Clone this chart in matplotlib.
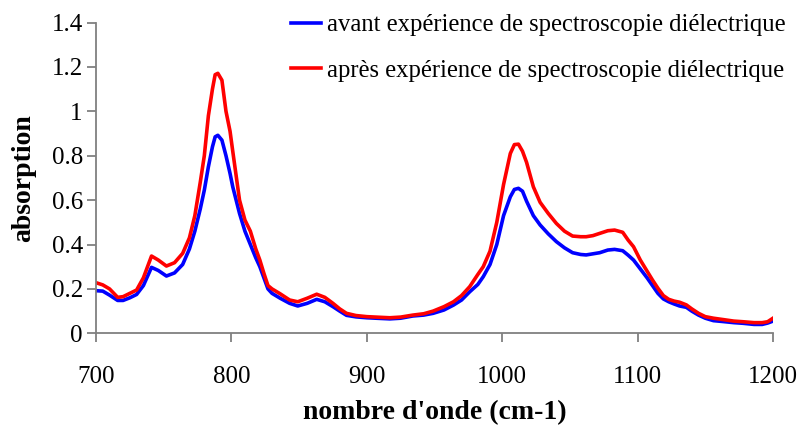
import matplotlib
matplotlib.use("Agg")
import matplotlib.pyplot as plt
import numpy as np

# wavenumber (cm-1)
wn_avant = [700, 705, 710, 716, 720, 725, 730, 735, 741, 746, 752, 758, 764, 769, 773, 777, 780, 783, 786, 788, 790, 793, 796, 799, 801, 806, 810, 814, 818, 821, 824, 827, 830, 836, 843, 849, 856, 863, 869, 875, 880, 885, 892, 900, 910, 917, 925, 934, 942, 949, 957, 964, 970, 976, 982, 986, 991, 996, 1001, 1006, 1009, 1012, 1015, 1018, 1023, 1028, 1034, 1040, 1046, 1052, 1058, 1062, 1067, 1072, 1078, 1083, 1089, 1093, 1097, 1102, 1107, 1111, 1115, 1119, 1123, 1127, 1131, 1136, 1140, 1145, 1150, 1156, 1163, 1171, 1178, 1186, 1192, 1196, 1200]
ab_avant = [0.192, 0.19, 0.172, 0.148, 0.148, 0.16, 0.175, 0.215, 0.297, 0.283, 0.258, 0.272, 0.31, 0.38, 0.46, 0.56, 0.645, 0.75, 0.84, 0.885, 0.892, 0.87, 0.8, 0.72, 0.66, 0.54, 0.46, 0.4, 0.34, 0.3, 0.25, 0.2, 0.18, 0.158, 0.135, 0.123, 0.135, 0.153, 0.142, 0.12, 0.1, 0.081, 0.074, 0.07, 0.067, 0.065, 0.068, 0.078, 0.082, 0.09, 0.105, 0.127, 0.15, 0.187, 0.22, 0.255, 0.31, 0.4, 0.53, 0.615, 0.648, 0.653, 0.64, 0.595, 0.53, 0.488, 0.448, 0.413, 0.385, 0.363, 0.355, 0.353, 0.358, 0.363, 0.375, 0.378, 0.372, 0.352, 0.33, 0.29, 0.25, 0.215, 0.18, 0.155, 0.142, 0.132, 0.123, 0.117, 0.1, 0.082, 0.068, 0.057, 0.053, 0.048, 0.045, 0.04, 0.04, 0.046, 0.055]

wn_apres = wn_avant
ab_apres = [0.228, 0.218, 0.2, 0.162, 0.165, 0.18, 0.195, 0.25, 0.348, 0.33, 0.303, 0.318, 0.36, 0.43, 0.53, 0.68, 0.8, 0.98, 1.1, 1.165, 1.171, 1.14, 1.0, 0.91, 0.82, 0.6, 0.51, 0.46, 0.38, 0.33, 0.27, 0.215, 0.2, 0.178, 0.15, 0.142, 0.158, 0.176, 0.162, 0.135, 0.11, 0.09, 0.08, 0.075, 0.072, 0.07, 0.073, 0.082, 0.088, 0.1, 0.12, 0.142, 0.17, 0.21, 0.265, 0.3, 0.37, 0.5, 0.67, 0.81, 0.85, 0.852, 0.82, 0.77, 0.66, 0.59, 0.54, 0.495, 0.46, 0.438, 0.435, 0.435, 0.44, 0.45, 0.462, 0.465, 0.455, 0.42, 0.39, 0.33, 0.28, 0.24, 0.203, 0.17, 0.153, 0.145, 0.14, 0.128, 0.11, 0.09, 0.075, 0.068, 0.062, 0.055, 0.052, 0.048, 0.048, 0.052, 0.068]

label_avant = "avant expérience de spectroscopie diélectrique"
label_apres = "après expérience de spectroscopie diélectrique"
x_ticks = [700, 800, 900, 1000, 1100, 1200]
y_ticks = [0, 0.2, 0.4, 0.6, 0.8, 1.0, 1.2, 1.4]
y_ticklabels = ["0", "0.2", "0.4", "0.6", "0.8", "1", "1.2", "1.4"]

plt.rcParams['font.family'] = ['Liberation Serif', 'DejaVu Serif']

fig = plt.figure(figsize=(8.01, 4.28), dpi=100)
ax = fig.add_axes([96/801, 1-333.3/428, (773-96)/801, (333.3-22.5)/428])

l1, = ax.plot(wn_avant, ab_avant, color='#0000ff', lw=2.6, label=label_avant)
l2, = ax.plot(wn_apres, ab_apres, color='#ff0000', lw=2.6, label=label_apres)

ax.set_xlim(700, 1200)
ax.set_ylim(0, 1.4)
ax.set_xticks(x_ticks)
ax.set_yticks(y_ticks)
ax.set_yticklabels(y_ticklabels)

for s in ['top', 'right']:
    ax.spines[s].set_visible(False)
for s in ['left', 'bottom']:
    ax.spines[s].set_color('#808080')
    ax.spines[s].set_linewidth(1.3)
ax.tick_params(axis='both', direction='out', length=6.5, width=1.3, color='#808080', labelsize=18, labelcolor='black')
ax.tick_params(axis='x', pad=17)
ax.tick_params(axis='y', pad=3)

ax.set_xlabel("nombre d'onde (cm-1)", fontsize=20, fontweight='bold', labelpad=9)
ax.set_ylabel("absorption", fontsize=20, fontweight='bold', labelpad=11)

fig.legend(handles=[l1, l2], loc='upper left', bbox_to_anchor=(291/801, 1-14/428),
           frameon=False, fontsize=17.7, borderpad=0, borderaxespad=0,
           handlelength=1.22, handletextpad=0.25, labelspacing=0.95)

fig.savefig('out.png', dpi=100)
